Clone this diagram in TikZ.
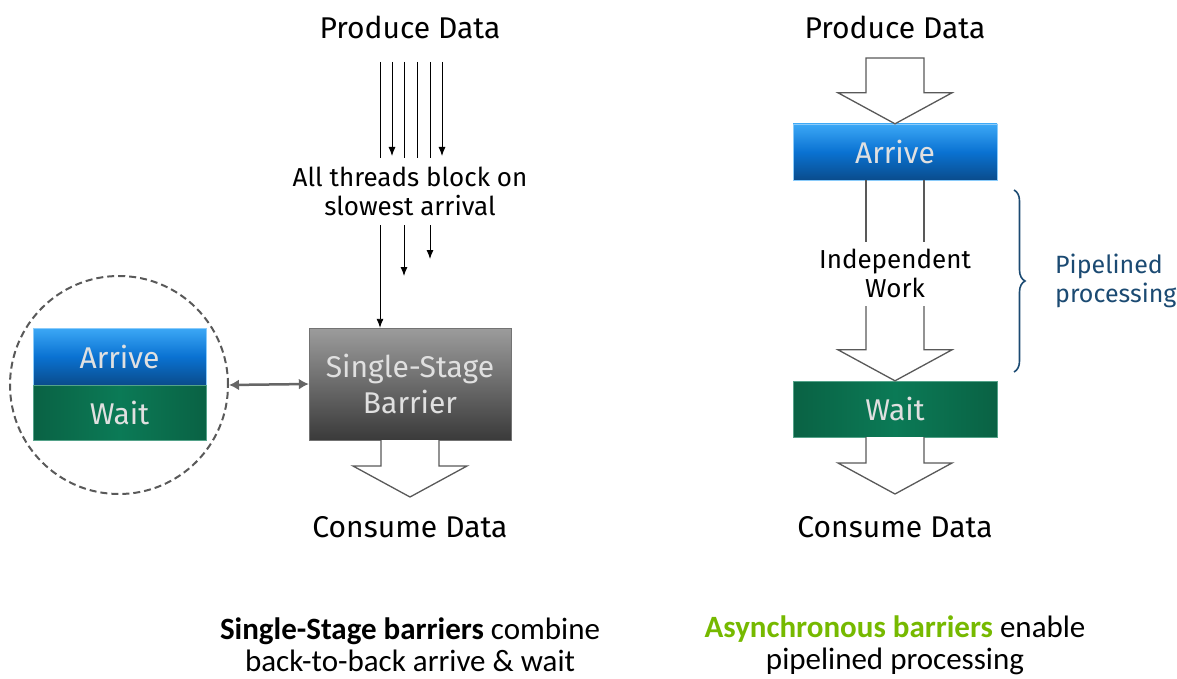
\documentclass[tikz,border=0pt]{standalone}
\usepackage{fontspec}
\setmainfont{Fira Sans}
\newfontfamily\capfont{Carlito}
\usetikzlibrary{arrows.meta,positioning,calc,decorations.pathreplacing}

\definecolor{blueTop}{HTML}{3CA8F6}
\definecolor{blueMid}{HTML}{0A72D2}
\definecolor{blueBot}{HTML}{0A4C8C}
\definecolor{waitEdge}{HTML}{0A6244}
\definecolor{waitMid}{HTML}{0B7A56}
\definecolor{barTop}{HTML}{9C9C9C}
\definecolor{barBot}{HTML}{3A3A3A}
\definecolor{braceBlue}{HTML}{1B4A72}
\definecolor{nvGreen}{HTML}{76B900}

% open arrow: top centre, tip, optional closing
\newcommand{\fatarrow}[3]{%
  \draw[hollow] ($(#1)+(-29,0)$) |- ($(#2)+(-57,-31)$) -- (#2)
    -- ($(#2)+(57,-31)$) -| ($(#1)+(29,0)$) #3;}

\begin{document}
\begin{tikzpicture}[x=1pt,y=-1pt,
    lbl/.style={font=\fontsize{30}{30}\selectfont, inner sep=0pt},
    note/.style={font=\fontsize{26}{29}\selectfont, align=center, inner sep=0pt},
    boxtext/.style={text=white!88!black, font=\fontsize{30}{36}\selectfont, align=center},
    arrivebox/.style={draw=blueTop!60, top color=blueTop, bottom color=blueBot,
      middle color=blueMid, minimum width=#1, minimum height=56, boxtext},
    waitbox/.style={draw=waitMid!70, left color=waitEdge, right color=waitEdge,
      middle color=waitMid, minimum width=#1, minimum height=56, boxtext},
    hollow/.style={draw=black!65, line width=1.3pt, fill=white},
    thread/.style={line width=0.9pt},
    link/.style={draw=black!60, line width=2.5pt, {Latex[length=10pt,width=11pt]}-{Latex[length=10pt,width=11pt]}},
    caption/.style={font=\capfont\fontsize{31}{32}\selectfont, align=center, inner sep=0pt}]
  \useasboundingbox (0,0) rectangle (1177,679);

  % Single-stage side
  \node[lbl] (prodL) at (410,27) {Produce Data};
  \node[note] (block) at (410,191) {All threads block on\\slowest arrival};
  \node[minimum width=202, minimum height=112, top color=barTop, bottom color=barBot,
    draw=black!55, boxtext] (barrier) at (410,384) {Single-Stage\\Barrier};
  \coordinate (tipL) at (410,497);
  \node[lbl] (consL) at (410,527) {Consume Data};

  % Threads arriving
  \foreach \x in {380,404,417,430}
    \draw[thread] (\x,62) -- (\x,158);
  \foreach \x in {392,442}
    \draw[thread,-{Latex[length=9pt,width=7pt]}] (\x,62) -- (\x,156);
  \draw[thread,-{Latex[length=9pt,width=7pt]}] (380,225) -- ($(barrier.north)+(-30,0)$);
  \draw[thread,-{Latex[length=9pt,width=7pt]}] (404,225) -- (404,276);
  \draw[thread,-{Latex[length=9pt,width=7pt]}] (430,225) -- (430,259);

  \fatarrow{barrier.south}{tipL}{}

  % Arrive + wait in one
  \node[arrivebox=173, minimum height=57] (arrL) at (119.5,356.5) {Arrive};
  \node[waitbox=173, minimum height=55, below=0pt of arrL] (waitL) {Wait};
  \node[circle, draw=black!65, dashed, dash pattern=on 7pt off 4pt, line width=2pt,
    minimum size=218] (ring) at (119,385) {};
  \draw[link] (ring.east) -- (barrier.west);

  % Asynchronous side
  \node[lbl] (prodR) at (895,27) {Produce Data};
  \node[arrivebox=204] (arrR) at (895,152) {Arrive};
  \node[note] (indep) at (895,273) {Independent\\Work};
  \node[waitbox=204] (waitR) at (895,409) {Wait};
  \coordinate (topR) at (895,58);
  \coordinate (gapT) at (895,242);
  \coordinate (gapB) at (895,306);
  \coordinate (tipR) at (895,494);
  \node[lbl] (consR) at (895,527) {Consume Data};

  \fatarrow{topR}{arrR.north}{-- cycle}
  \draw[hollow] ($(arrR.south)+(-29,0)$) -- ($(gapT)+(-29,0)$);
  \draw[hollow] ($(arrR.south)+(29,0)$) -- ($(gapT)+(29,0)$);
  \fatarrow{gapB}{waitR.north}{}
  \fatarrow{waitR.south}{tipR}{}

  % Pipelined brace
  \coordinate (brTop) at (1014,190);
  \coordinate (brBot) at (1014,372);
  \draw[braceBlue, line width=1.6pt, decorate, decoration={brace, amplitude=11pt}]
    (brTop) -- (brBot);
  \node[note, font=\fontsize{25}{29}\selectfont, text=braceBlue, align=left, anchor=west]
    (pipe) at (1055,281) {Pipelined\\processing};

  % Captions
  \node[caption] (capL) at (410,645)
    {\textbf{Single-Stage barriers} combine\\back-to-back arrive \& wait};
  \node[caption] (capR) at (895,645)
    {\textbf{\color{nvGreen}Asynchronous barriers} enable\\pipelined processing};
\end{tikzpicture}
\end{document}
